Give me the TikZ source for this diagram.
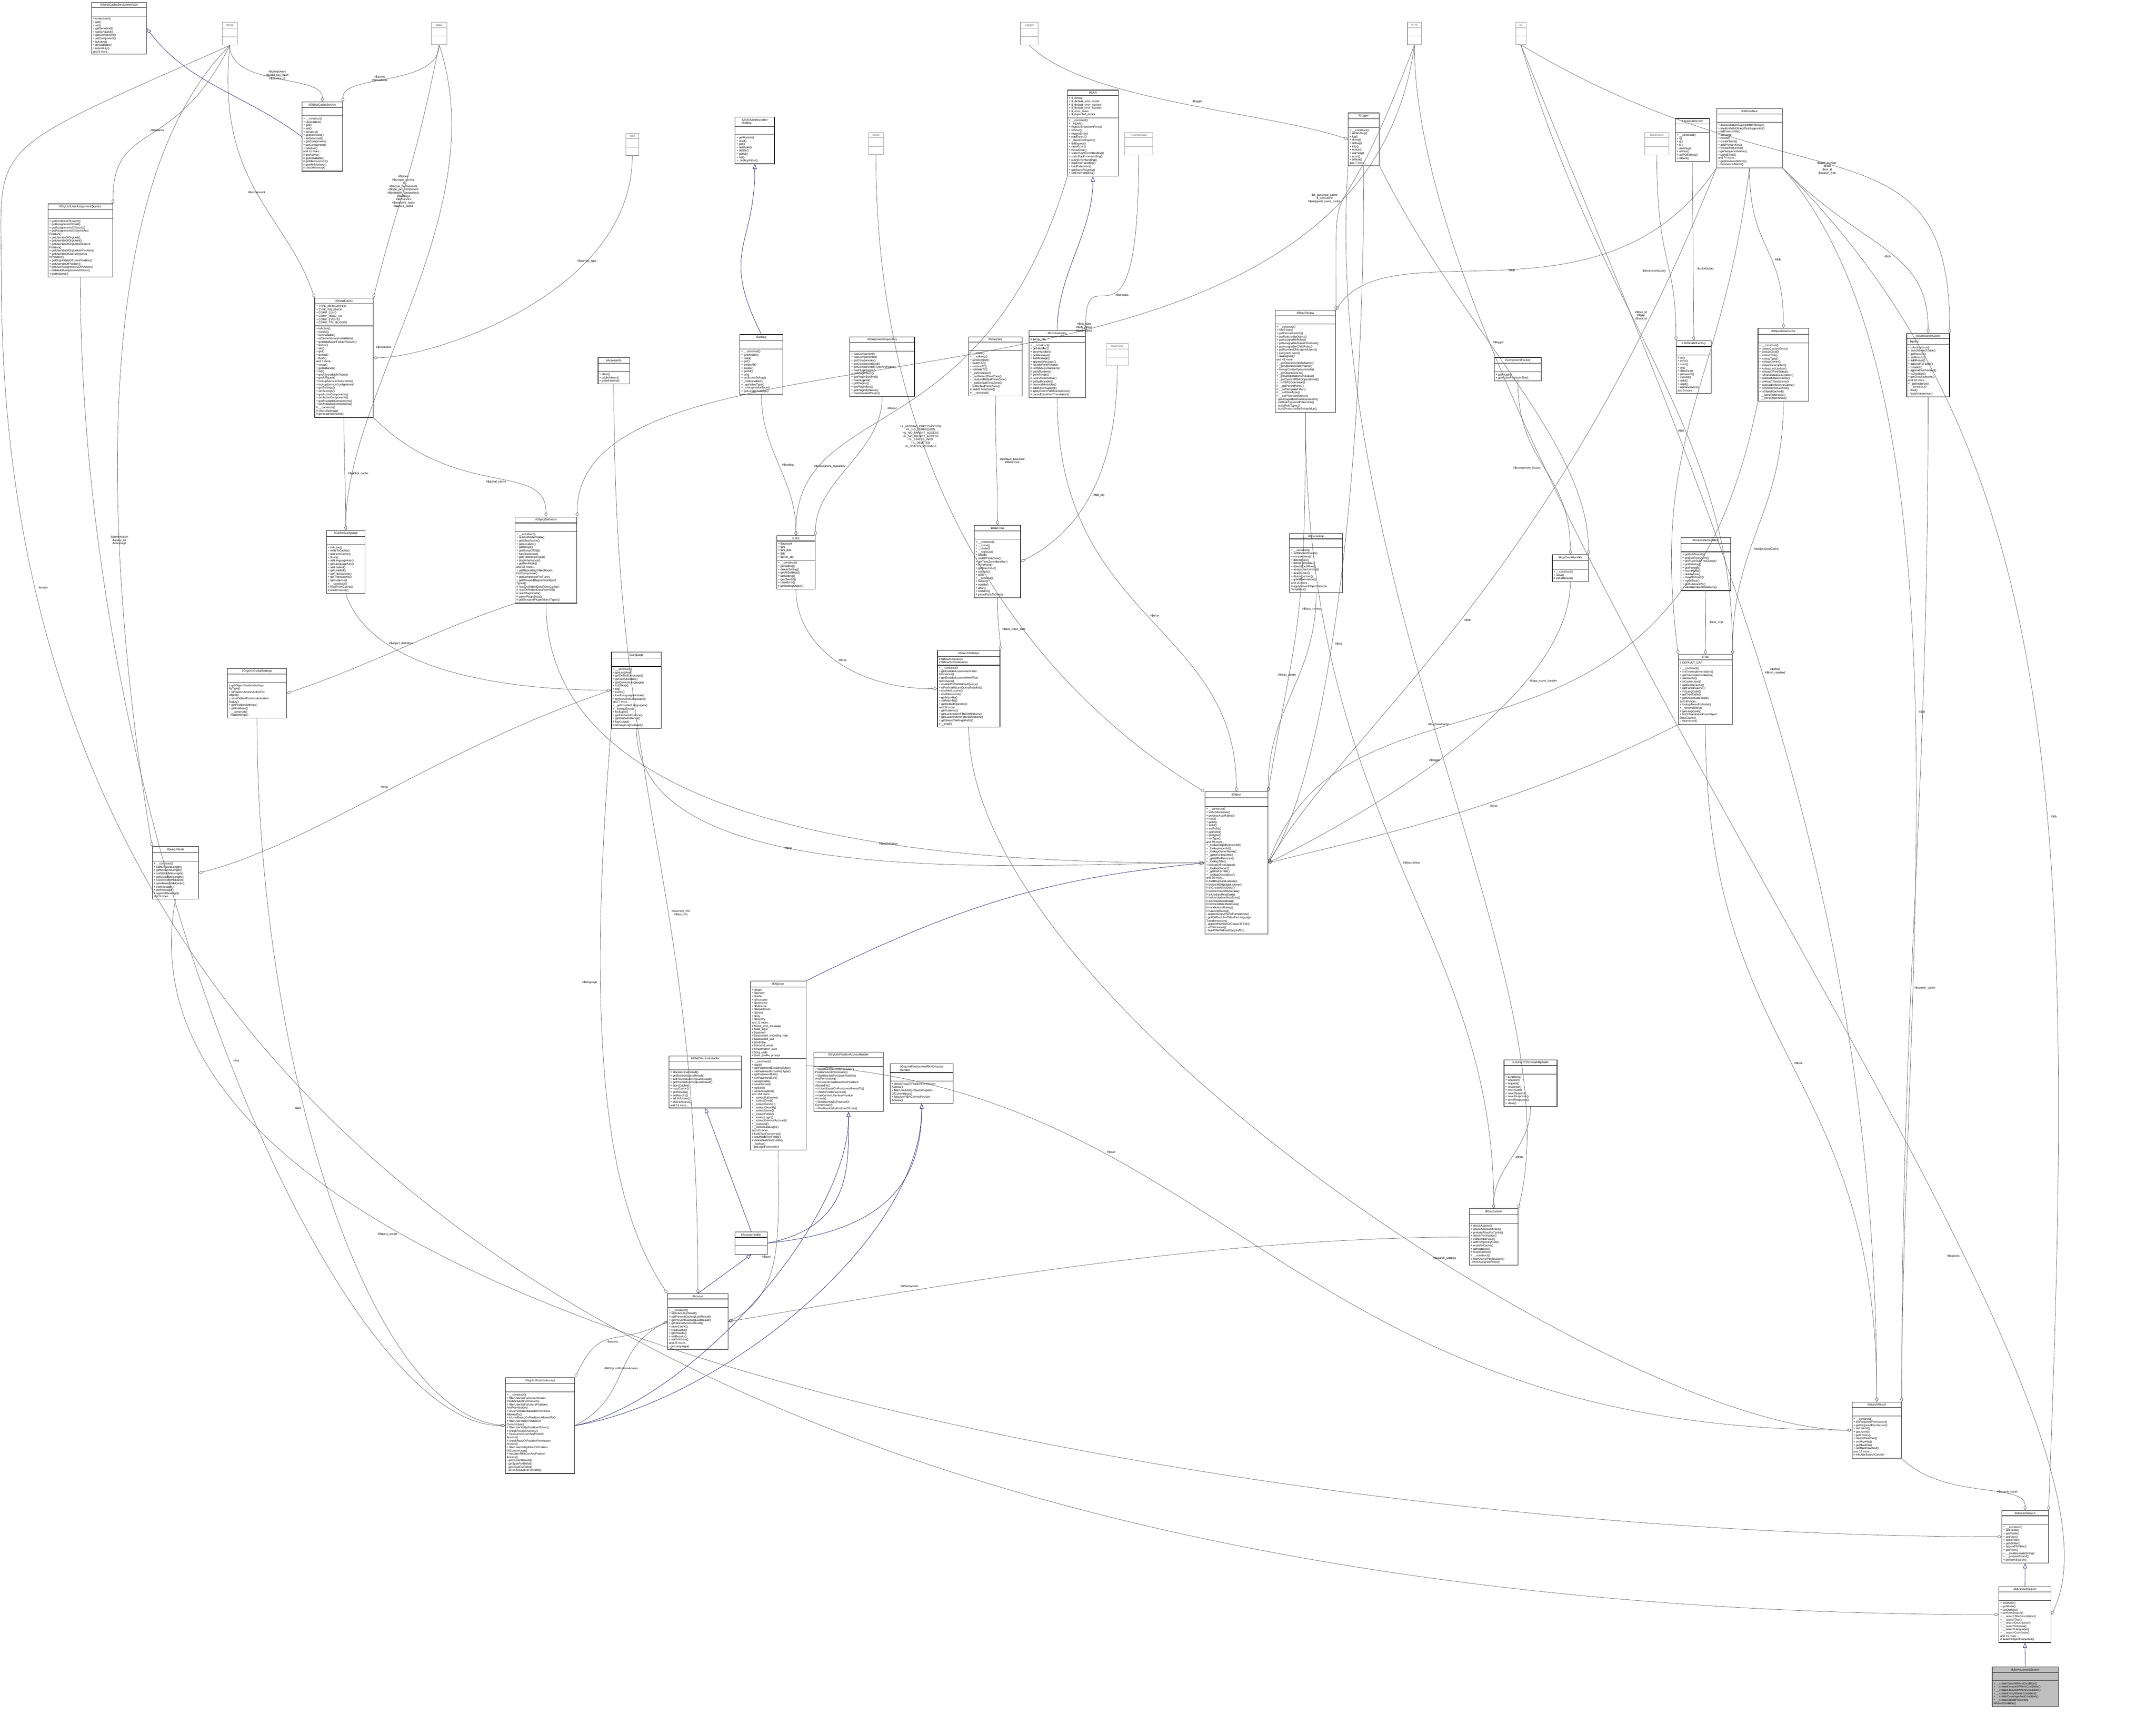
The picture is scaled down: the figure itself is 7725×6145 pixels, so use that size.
\documentclass[tikz,border=0pt]{standalone}
\usepackage{fontspec}
\setmainfont{Liberation Sans}
\usetikzlibrary{shapes.multipart,arrows.meta}
\definecolor{navy}{RGB}{25,25,112}
\tikzset{
 cls/.style={draw=black!85,line width=0.5pt,rectangle split,rectangle split parts=3,
   rectangle split part align={center,left,left},align=left,anchor=north west,
   inner xsep=0.05cm,inner ysep=0.05cm,rectangle split empty part height=0.12cm,
   font=\fontsize{2.9pt}{3.35pt}\selectfont},
 tcls/.style={cls,draw=black!40,text=black!60,rectangle split empty part height=0.17cm},
 sel/.style={cls,fill=black!25},
 agg/.style={draw=black!70,line width=0.3pt,-{Diamond[open,length=5pt,width=3pt]}},
 inh/.style={draw=navy,line width=0.35pt,-{Triangle[open,length=5pt,width=4pt]}},
 lbl/.style={font=\fontsize{2.9pt}{3.35pt}\selectfont,align=center,text=black}
}
\newcommand\cls[8][cls]{\node[#1,minimum width=#5*0.01cm] (#2) at (#3,#4) {#6\nodepart{second}#7\nodepart{third}#8};}
\begin{document}
\begin{tikzpicture}[x=0.01cm,y=-0.01cm]
\useasboundingbox[fill=white] (0,0) rectangle (7725,6145);
% type boxes
\cls[tcls]{string}{796}{79}{53}{string}{}{}
\cls[tcls]{static}{1545}{79}{55}{static}{}{}
\cls[tcls]{Logger}{3656}{79}{63}{Logger}{}{}
\cls[tcls]{array}{5042}{79}{50}{array}{}{}
\cls[tcls]{int}{5430}{79}{37}{int}{}{}
\cls[tcls]{bool}{2241}{477}{47}{bool}{}{}
\cls[tcls]{const}{3111}{474}{53}{const}{}{}
\cls[tcls]{RunInterface}{4029}{474}{100}{RunInterface}{}{}
\cls[tcls]{Dimension}{5892}{474}{87}{Dimension}{}{}
\cls[tcls]{DateTime}{3963}{1230}{79}{DateTime}{}{}
% classes
\cls{IGCSI}{327}{7}{197}{IGlobalCacheServiceInterface}{\mbox{}}{+ unserialize()\\+ get()\\+ set()\\+ getServiceId()\\+ setServiceId()\\+ getComponent()\\+ setComponent()\\+ isActive()\\+ isInstallable()\\+ returnKey()\\and 9 more...}
\cls{GCS}{1081}{365}{146}{ilGlobalCacheService}{\mbox{}}{+ \_\_construct()\\+ unserialize()\\+ get()\\+ set()\\+ serialize()\\+ getServiceId()\\+ setServiceId()\\+ getComponent()\\+ setComponent()\\+ isActive()\\and 11 more...\\\# getActive()\\\# getInstallable()\\\# getMemoryLimit()\\\# getMinMemory()\\\# checkMemory()}
\cls{OUUAQ}{171}{730}{232}{ilOrgUnitUserAssignmentQueries}{\mbox{}}{+ getPositionsOfUserId()\\+ getAssignmentOrFail()\\+ getAssignmentsOfUserId()\\+ getAssignmentsOfUserIdAnd\\Position()\\+ getUserIdsOfOrgUnit()\\+ getUserIdsOfOrgUnits()\\+ getUserIdsOfOrgUnitsOfUsers\\Position()\\+ getUserIdsOfOrgUnitsInPosition()\\+ getUserIdsOfUsersOrgUnits\\InPosition()\\+ getOrgUnitIdsOfUsersPosition()\\+ getUserIdsOfPosition()\\+ getUserAssignmentsOfPosition()\\+ deleteAllAssignmentsOfUser()\\+ getInstance()}
\cls{GC}{1127}{1068}{209}{ilGlobalCache}{+ TYPE\_MEMCACHED\\+ TYPE\_FALLBACK\\+ COMP\_CLNG\\+ COMP\_RBAC\_UA\\+ COMP\_EVENTS\\+ COMP\_TPL\_BLOCKS}{+ isActive()\\+ isValid()\\+ isInstallable()\\+ isCacheServiceInstallable()\\+ getInstallationFailureReason()\\+ exists()\\+ set()\\+ get()\\+ delete()\\+ flush()\\and 7 more...\\+ setup()\\+ getInstance()\\+ log()\\+ getAllInstallableTypes()\\+ getAllTypes()\\+ lookupServiceClassName()\\+ lookupServiceConfigName()\\+ getSettings()\\+ setSettings()\\+ getActiveComponents()\\+ setActiveComponents()\\+ getAvailableComponents()\\+ setAvailableComponents()\\\# \_\_construct()\\\# checkSettings()\\\# generateServiceId()}
\cls{AccessInfo}{2142}{1281}{113}{ilAccessInfo}{\mbox{}}{+ clear()\\+ addInfoItem()\\+ getInfoItems()}
\cls{AdmSetting}{2633}{419}{141}{ILIAS\textbackslash Administration\\\textbackslash Setting}{\mbox{}}{+ getModule()\\+ read()\\+ get()\\+ deleteAll()\\+ delete()\\+ getAll()\\+ set()\\+ \_lookupValue()}
\cls{PEAR}{3824}{322}{182}{PEAR}{+ \$\_debug\\+ \$\_default\_error\_mode\\+ \$\_default\_error\_options\\+ \$\_default\_error\_handler\\+ \$\_error\_class\\+ \$\_expected\_errors}{+ \_\_construct()\\+ \_PEAR()\\+ registerShutdownFunc()\\+ isError()\\+ expectError()\\+ popExpect()\\+ \_checkDelExpect()\\+ delExpect()\\+ raiseError()\\+ throwError()\\+ staticPushErrorHandling()\\+ staticPopErrorHandling()\\+ pushErrorHandling()\\+ popErrorHandling()\\+ loadExtension()\\+ getStaticProperty()\\+ setErrorHandling()}
\cls{Logr}{4830}{404}{111}{ilLogger}{\mbox{}}{+ \_\_construct()\\+ isHandling()\\+ log()\\+ dump()\\+ debug()\\+ info()\\+ notice()\\+ warning()\\+ error()\\+ critical()\\and 7 more...}
\cls{Color}{6002}{424}{122}{ILIAS\textbackslash Data\textbackslash Color}{\mbox{}}{+ \_\_construct()\\+ r()\\+ g()\\+ b()\\+ asArray()\\+ asHex()\\+ asRGBString()\\+ isDark()}
\cls{DBI}{6150}{388}{235}{ilDBInterface}{\mbox{}}{+ doesCollationSupportMB4Strings()\\+ sanitizeMB4StringIfNotSupported()\\+ initFromIniFile()\\+ connect()\\+ nextId()\\+ createTable()\\+ addPrimaryKey()\\+ createSequence()\\+ getSequenceName()\\+ tableExists()\\and 74 more...\\+ getReservedWords()\\+ isReservedWord()}
\cls{Setting}{2650}{1198}{154}{ilSetting}{\mbox{}}{+ \_\_construct()\\+ getModule()\\+ read()\\+ get()\\+ deleteAll()\\+ delete()\\+ getAll()\\+ set()\\+ setScormDebug()\\+ \_lookupValue()\\+ \_getValueType()\\+ \_changeValueType()\\+ getLongerSettings()}
\cls{CompRepo}{3044}{1206}{232}{ilComponentRepository}{\mbox{}}{+ hasComponent()\\+ hasComponentId()\\+ getComponents()\\+ getComponentById()\\+ getComponentByTypeAndName()\\+ hasPluginSlotId()\\+ getPluginSlots()\\+ getPluginSlotById()\\+ hasPluginId()\\+ getPlugins()\\+ getPluginById()\\+ getPluginByName()\\+ hasActivatedPlugin()}
\cls{TZ}{3470}{1206}{191}{ilTimeZone}{\mbox{}}{+ \_\_sleep()\\+ \_\_wakeup()\\+ getIdentifier()\\+ switchTZ()\\+ restoreTZ()\\+ validateTZ()\\+ \_getInstance()\\+ \_setDefaultTimeZone()\\+ \_restoreDefaultTimeZone()\\+ \_getDefaultTimeZone()\\+ initDefaultTimeZone()\\\# switchTimeZone()\\\# \_\_construct()}
\cls{ErrH}{3686}{1184}{202}{ilErrorHandling}{\# \$error\_obj}{+ \_\_construct()\\+ getHandler()\\+ errorHandler()\\+ getMessage()\\+ setMessage()\\+ appendMessage()\\+ handlePreWhoops()\\\# initWhoopsHandlers()\\\# getIsRuntime()\\\# getWhoops()\\\# isDevmodeActive()\\\# defaultHandler()\\\# devmodeHandler()\\\# addEditorSupport()\\\# applyEditorPathTranslations()\\\# parseEditorPathTranslation()}
\cls{RbacRev}{4568}{1111}{217}{ilRbacReview}{\mbox{}}{+ \_\_construct()\\+ roleExists()\\+ getParentRoleIds()\\+ getRoleListByObject()\\+ getAssignableRoles()\\+ getAssignableRolesInSubtree()\\+ getAssignableChildRoles()\\+ getNumberOfAssignedUsers()\\+ assignedUsers()\\+ isAssigned()\\and 43 more...\\+ \_getOperationIdsByName()\\+ \_getOperationIdByName()\\+ lookupCreateOperationIds()\\+ \_getOperationList()\\+ \_groupOperationsByClass()\\+ \_getCustomRBACOperationId()\\+ \_isRBACOperation()\\\# \_\_getParentRoles()\\\# \_\_setTemplateFilter()\\\# \_\_setRoleType()\\\# \_\_setProtectedStatus()\\- getAssignableRolesGenerator()\\- setRoleTypeAndProtection()\\- buildRoleTypes()\\- buildProtectionByStringValue()}
\cls{CompFac}{5353}{1280}{169}{ilComponentFactory}{\mbox{}}{+ getPlugin()\\+ getActivePluginsInSlot()}
\cls{DataFac}{6005}{1220}{126}{ILIAS\textbackslash Data\textbackslash Factory}{\mbox{}}{+ ok()\\+ error()\\+ color()\\+ uri()\\+ dataSize()\\+ password()\\+ clientId()\\+ refId()\\+ objId()\\+ alphanumeric()\\and 9 more...}
\cls{ODC}{6298}{1176}{182}{ilObjectDataCache}{\mbox{}}{+ \_\_construct()\\+ deleteCachedEntry()\\+ lookupObjId()\\+ lookupTitle()\\+ lookupType()\\+ lookupOwner()\\+ lookupDescription()\\+ lookupLastUpdate()\\+ lookupOfflineStatus()\\+ isTranslatedDescription()\\+ preloadObjectCache()\\+ preloadTranslations()\\+ preloadReferenceCache()\\+ isReferenceCached()\\+ isObjectCached()\\- \_\_storeReference()\\- \_\_storeObjectData()}
\cls{USC}{6831}{1194}{153}{ilUserSearchCache}{- \$query}{+ isAnonymous()\\+ switchSearchType()\\+ getResults()\\+ setResults()\\+ addResult()\\+ appendToFailed()\\+ isFailed()\\+ appendToChecked()\\+ isChecked()\\+ getCheckedItems()\\and 18 more...\\+ \_getInstance()\\- \_\_construct()\\- read()\\- readAnonymous()}
\cls{CLang}{1169}{1900}{138}{ilCachedLanguage}{\mbox{}}{+ isActive()\\+ writeToCache()\\+ deleteInCache()\\+ flush()\\+ setLanguageKey()\\+ getLanguageKey()\\+ setLoaded()\\+ getLoaded()\\+ setTranslations()\\+ getTranslations()\\+ getInstance()\\\# \_\_construct()\\\# readFromCache()\\\# readFromDB()}
\cls{ObjDef}{1845}{1852}{221}{ilObjectDefinition}{\mbox{}}{+ \_\_construct()\\+ readDefinitionData()\\+ getClassName()\\+ getLocation()\\+ getGroup()\\+ getGroupOfObj()\\+ hasCheckbox()\\+ getTranslationType()\\+ stopInheritance()\\+ getDevMode()\\and 38 more...\\+ getRepositoryObjectTypes\\ForComponent()\\+ getComponentForType()\\+ getGroupedRepositoryObject\\Types()\\\# readDefinitionDataFromCache()\\\# readDefinitionDataFromDB()\\\# readPluginData()\\\# parsePluginData()\\\# getGroupedPluginObjectTypes()}
\cls{Lang}{2190}{2336}{179}{ilLanguage}{\mbox{}}{+ \_\_construct()\\+ getLangKey()\\+ getDefaultLanguage()\\+ getTextDirection()\\+ getContentLanguage()\\+ toJSMap()\\+ txt()\\+ exists()\\+ loadLanguageModule()\\+ getInstalledLanguages()\\and 7 more...\\+ \_getInstalledLanguages()\\+ \_lookupEntry()\\+ lookupId()\\+ getFallbackInstance()\\+ getGlobalInstance()\\\# logUsage()\\\# isUsageLogEnabled()}
\cls{OUGS}{814}{2394}{212}{ilOrgUnitGlobalSettings}{\mbox{}}{+ getObjectPositionSettings\\ByType()\\+ isPositionAccessActiveFor\\Object()\\+ saveDefaultPositionActivation\\Status()\\+ getPositionSettings()\\+ getInstance()\\- \_\_construct()\\- readSettings()}
\cls{QP}{545}{3033}{166}{ilQueryParser}{\mbox{}}{+ \_\_construct()\\+ setMinWordLength()\\+ getMinWordLength()\\+ setGlobalMinLength()\\+ getGlobalMinLength()\\+ setAllowedWildcards()\\+ getAllowedWildcards()\\+ setMessage()\\+ getMessage()\\+ appendMessage()\\and 9 more...}
\cls{ILIAS}{2782}{1919}{138}{ILIAS}{+ \$account\\+ \$ini\\+ \$ini\_ilias\\+ \$db\\+ \$error\_obj}{+ \_\_construct()\\+ getSetting()\\+ deleteSetting()\\+ getAllSettings()\\+ setSetting()\\+ getClientId()\\+ raiseError()\\\# getSettingObject()}
\cls{DT}{3490}{1882}{166}{ilDateTime}{\mbox{}}{+ \_\_construct()\\+ \_\_clone()\\+ \_\_sleep()\\+ \_\_wakeup()\\+ isNull()\\+ switchTimeZone()\\+ getTimeZoneIdentifier()\\+ increment()\\+ getUnixTime()\\+ setDate()\\+ get()\\+ \_\_toString()\\+ before()\\+ equals()\\+ after()\\+ switchIn()\\\# parsePartsToDate()}
\cls{SSet}{3358}{2330}{224}{ilSearchSettings}{\# \$showRelevance\\\# \$showSubRelevance}{+ \_\_construct()\\+ getEnabledLuceneItemFilter\\Definitions()\\+ getEnabledLuceneMimeFilter\\Definitions()\\+ enablePrefixWildcardQuery()\\+ isPrefixWildcardQueryEnabled()\\+ enabledLucene()\\+ enableLucene()\\+ getMaxHits()\\+ setMaxHits()\\+ getDefaultOperator()\\and 38 more...\\+ getInstance()\\+ getLuceneItemFilterDefinitions()\\+ getLuceneMimeFilterDefinitions()\\+ getSearchSettingsRefId()\\\# \_\_read()}
\cls{RbacAdm}{4620}{1911}{190}{ilRbacAdmin}{\mbox{}}{+ \_\_construct()\\+ setBlockedStatus()\\+ removeUser()\\+ deleteRole()\\+ deleteTemplate()\\+ deleteLocalRole()\\+ assignUserLimited()\\+ assignUser()\\+ deassignUser()\\+ grantPermission()\\and 16 more...\\\# applyMovedObjectDidactic\\Templates()}
\cls{Obj}{4316}{2837}{226}{ilObject}{\mbox{}}{+ \_\_construct()\\+ withReferences()\\+ processAutoRating()\\+ read()\\+ getId()\\+ setId()\\+ setRefId()\\+ getRefId()\\+ getType()\\+ setType()\\and 39 more...\\+ \_lookupObjIdByImportId()\\+ \_lookupImportId()\\+ \_lookupOwnerName()\\+ \_getIdForImportId()\\+ \_getAllReferences()\\+ \_lookupTitle()\\+ lookupOfflineStatus()\\+ \_lookupOwner()\\+ \_getIdsForTitle()\\+ \_lookupDescription()\\and 26 more...\\\# doMDUpdateListener()\\\# beforeMDUpdateListener()\\\# doCreateMetaData()\\\# beforeCreateMetaData()\\\# doUpdateMetaData()\\\# beforeUpdateMetaData()\\\# doDeleteMetaData()\\\# beforeDeleteMetaData()\\\# handleAutoRating()\\\# hasAutoRating()\\- appendCopyInfoToTranslations()\\- getCallbackForTitlesPerLanguage\\Transformation()\\- appendNumberOfCopiesToTitle()\\- isTitleUnique()\\- buildTitleWithoutCopySuffix()}
\cls{AEH}{5561}{1987}{129}{ilAppEventHandler}{\mbox{}}{+ \_\_construct()\\+ raise()\\\# initListeners()}
\cls{TreeImpl}{6022}{1925}{178}{ilTreeImplementation}{\mbox{}}{+ getSubTreeIds()\\+ getSubTreeQuery()\\+ getTrashSubTreeQuery()\\+ getRelation()\\+ getPathIds()\\+ insertNode()\\+ deleteTree()\\+ moveToTrash()\\+ moveTree()\\+ getSubtreeInfo()\\+ validateParentRelations()}
\cls{Tree}{6013}{2345}{193}{ilTree}{\# DEFAULT\_GAP}{+ \_\_construct()\\+ initTreeImplementation()\\+ getTreeImplementation()\\+ useCache()\\+ isCacheUsed()\\+ getDepthCache()\\+ getParentCache()\\+ initLangCode()\\+ getTreeTable()\\+ getObjectDataTable()\\and 69 more...\\+ lookupTreesForNode()\\+ \_removeEntry()\\\# getLangCode()\\\# fetchTranslationFromObject\\DataCache()\\- returnIdom()}
\cls{ObjUser}{2688}{3515}{199}{ilObjUser}{+ \$login\\+ \$gender\\+ \$utitle\\+ \$firstname\\+ \$lastname\\+ \$fullname\\+ \$department\\+ \$street\\+ \$city\\+ \$country\\and 12 more...\\\# \$time\_limit\_message\\\# \$last\_login\\\# \$passwd\\\# \$password\_encoding\_type\\\# \$password\_salt\\\# \$birthday\\\# \$second\_email\\\# \$inactivation\_date\\\# \$org\_units\\\# \$last\_profile\_prompt}{+ \_\_construct()\\+ read()\\+ getPasswordEncodingType()\\+ setPasswordEncodingType()\\+ getPasswordSalt()\\+ setPasswordSalt()\\+ assignData()\\+ saveAsNew()\\+ update()\\+ writeAccepted()\\and 168 more...\\+ \_lookupFullname()\\+ \_lookupEmail()\\+ \_lookupGender()\\+ \_lookupClientIP()\\+ \_lookupName()\\+ \_lookupFields()\\+ \_lookupLogin()\\+ \_lookupExternalAccount()\\+ \_lookupId()\\+ \_lookupLastLogin()\\and 63 more...\\\# buildTextFromArray()\\\# readMultiTextFields()\\\# deleteMultiTextFields()\\- \_lookup()\\- getLoginFromAuth()}
\cls{RBACAH}{2396}{3783}{260}{ilRBACAccessHandler}{\mbox{}}{+ storeAccessResult()\\+ getStoredAccessResult()\\+ setPreventCachingLastResult()\\+ getPreventCachingLastResult()\\+ storeCache()\\+ readCache()\\+ getResults()\\+ setResults()\\+ addInfoItem()\\+ checkAccess()\\and 13 more...}
\cls{OUPAH}{2915}{3769}{249}{ilOrgUnitPositionAccessHandler}{\mbox{}}{+ filterUserIdsForCurrentUsers\\PositionsAndPermission()\\+ filterUserIdsForUsersPositions\\AndPermission()\\+ isCurrentUserBasedOnPositions\\AllowedTo()\\+ isUserBasedOnPositionsAllowedTo()\\+ checkPositionAccess()\\+ hasCurrentUserAnyPosition\\Access()\\+ filterUserIdsByPositionOf\\CurrentUser()\\+ filterUserIdsByPositionOfUser()}
\cls{OUPRAH}{3189}{3812}{225}{ilOrgUnitPositionAndRBACAccess\\Handler}{\mbox{}}{+ checkRbacOrPositionPermission\\Access()\\+ filterUserIdsByRbacOrPosition\\OfCurrentUser()\\+ hasUserRBACorAnyPosition\\Access()}
\cls{AH}{2633}{4414}{116}{ilAccessHandler}{\mbox{}}{\mbox{}}
\cls{Access}{2391}{4635}{217}{ilAccess}{\mbox{}}{+ \_\_construct()\\+ storeAccessResult()\\+ setPreventCachingLastResult()\\+ getPreventCachingLastResult()\\+ getStoredAccessResult()\\+ storeCache()\\+ readCache()\\+ getResults()\\+ setResults()\\+ addInfoItem()\\and 25 more...\\- getLanguage()}
\cls{OUPA}{1810}{4936}{248}{ilOrgUnitPositionAccess}{\mbox{}}{+ \_\_construct()\\+ filterUserIdsForCurrentUsers\\PositionsAndPermission()\\+ filterUserIdsForUsersPositions\\AndPermission()\\+ isCurrentUserBasedOnPositions\\AllowedTo()\\+ isUserBasedOnPositionsAllowedTo()\\+ filterUserIdsByPositionOf\\CurrentUser()\\+ filterUserIdsByPositionOfUser()\\+ checkPositionAccess()\\+ hasCurrentUserAnyPosition\\Access()\\+ checkRbacOrPositionPermission\\Access()\\+ filterUserIdsByRbacOrPosition\\OfCurrentUser()\\+ hasUserRBACorAnyPosition\\Access()\\- getCurrentUserId()\\- getTypeForRefId()\\- getObjIdForRefId()\\- isPositionActiveForRefId()}
\cls{Http}{5388}{3797}{190}{ILIAS\textbackslash HTTP\textbackslash GlobalHttpState}{\mbox{}}{+ durations()\\+ wrapper()\\+ request()\\+ response()\\+ cookieJar()\\+ saveRequest()\\+ saveResponse()\\+ sendResponse()\\+ close()}
\cls{RbacSys}{5264}{4331}{174}{ilRbacSystem}{\mbox{}}{+ checkAccess()\\+ checkAccessOfUser()\\+ preloadRbacPaCache()\\+ checkPermission()\\+ initMemberView()\\+ addTemporaryRole()\\+ resetPACache()\\+ getInstance()\\+ resetCaches()\\\# \_\_construct()\\\# filterOwnerPermissions()\\- fetchAssignedRoles()}
\cls{SR}{6635}{5024}{177}{ilSearchResult}{\mbox{}}{+ \_\_construct()\\+ setRequiredPermission()\\+ getRequiredPermission()\\+ setUserId()\\+ getUserId()\\+ getEntries()\\+ isLimitReached()\\+ setMaxHits()\\+ getMaxHits()\\+ isOffsetReached()\\and 22 more...\\\# initUserSearchCache()}
\cls{AbsS}{7172}{5412}{166}{ilAbstractSearch}{\mbox{}}{+ \_\_construct()\\+ setFields()\\+ getFields()\\+ setFilter()\\+ setIdFilter()\\+ getIdFilter()\\+ appendToFilter()\\+ getFilter()\\+ \_\_createLocateString()\\+ \_\_prepareFound()\\+ performSearch()}
\cls{AdvS}{7161}{5685}{187}{ilAdvancedSearch}{\mbox{}}{+ setMode()\\+ getMode()\\+ setOptions()\\+ performSearch()\\+ \_\_searchTitleDescription()\\+ \_\_searchTitle()\\+ \_\_searchDescription()\\+ \_\_searchGeneral()\\+ \_\_searchLanguage()\\+ \_\_searchContribute()\\and 16 more...\\\# searchObjectProperties()}
\cls[sel]{LAdvS}{7137}{5973}{237}{ilLikeAdvancedSearch}{\mbox{}}{+ \_\_createTaxonWhereCondition()\\+ \_\_createKeywordWhereCondition()\\+ \_\_createLifecycleWhereCondition()\\+ \_\_createEntityWhereCondition()\\+ \_\_createCoverageAndCondition()\\+ \_\_createObjectProperties\\WhereCondition()}
% inheritance
\draw[inh] (GCS.west) .. controls +(-200,-150) and +(150,200) .. (IGCSI.east);
\draw[inh] (Setting.north) .. controls +(-150,-300) and +(0,300) .. (AdmSetting.south);
\draw[inh] (ErrH.north) .. controls +(0,-200) and +(0,200) .. (PEAR.south);
\draw[inh] (AH.north) -- (RBACAH.south);
\draw[inh] (AH.east) .. controls +(300,-60) and +(0,200) .. (OUPAH.south);
\draw[inh] (AH.east) .. controls +(400,-40) and +(0,300) .. (OUPRAH.south);
\draw[inh] (Access.north) -- (AH.south);
\draw[inh] (OUPA.east) .. controls +(400,-80) and +(0,400) .. (OUPAH.south);
\draw[inh] (OUPA.east) .. controls +(500,-80) and +(0,500) .. (OUPRAH.south);
\draw[inh] (ObjUser.north east) .. controls +(600,-300) and +(-500,50) .. (Obj.west);
\draw[inh] (AdvS.north) -- (AbsS.south);
\draw[inh] (LAdvS.north) -- (AdvS.south);
% aggregation
\draw[agg] (string.south) .. controls +(0,150) and +(0,-100) .. node[lbl,pos=0.4,right]{\#\$component\\\#\$valid\_key\_hash\\\#\$service\_id} (GCS.north);
\draw[agg] (static.south) .. controls +(0,150) and +(0,-100) .. node[lbl,pos=0.5,left]{\#\$active\\\#\$installable} (GCS.north east);
\draw[agg] (static.south) .. controls +(-100,500) and +(100,-400) .. node[lbl,pos=0.55]{\#\$types\\\#\$unique\_service\\\_id\\\#\$active\_components\\\#\$type\_per\_component\\\#\$available\_components\\\#\$settings\\\#\$instances\\\#\$available\_types\\\#\$active\_cache} (GC.north east);
\draw[agg] (string.south) .. controls +(-50,500) and +(-100,-300) .. node[lbl,pos=0.5]{\#\$component} (GC.north west);
\draw[agg] (bool.south) .. controls +(0,500) and +(200,0) .. node[lbl,pos=0.3]{\#\$service\_type} (GC.east);
\draw[agg] (string.south) .. controls +(-200,400) and +(0,-300) .. node[lbl,pos=0.45]{\#\$instance} (OUUAQ.north east);
\draw[agg] (GC.south) .. controls +(0,150) and +(0,-150) .. node[lbl,pos=0.5,right]{\#\$global\_cache} (CLang.north);
\draw[agg] (GC.south east) .. controls +(300,300) and +(0,-200) .. node[lbl,pos=0.6,left]{\#\$global\_cache} (ObjDef.north);
\draw[agg] (ObjDef.south west) .. controls +(-300,100) and +(300,-100) .. node[lbl,pos=0.5,above]{\#\$object\_definition} (OUGS.east);
\draw[agg] (AccessInfo.south) .. controls +(0,1500) and +(0,-1500) .. node[lbl,pos=0.6,right]{\#\$current\_info\\\#\$last\_info} (Access.north);
\draw[agg] (CLang.south) .. controls +(100,300) and +(-300,0) .. (Lang.west);
\draw[agg] (Lang.south) .. controls +(0,600) and +(-600,0) .. node[lbl,pos=0.4]{\#\$lng} (Obj.west);
\draw[agg] (ObjDef.south) .. controls +(0,900) and +(-700,0) .. node[lbl,pos=0.6]{\#\$objDefinition} (Obj.west);
\draw[agg] (Lang.west) .. controls +(-600,200) and +(400,-100) .. node[lbl,pos=0.5,above]{\#\$lng} (QP.east);
\draw[agg] (QP.south) .. controls +(-300,1600) and +(-2500,0) .. node[lbl,pos=0.3,left]{\#\$query\_parser} (AbsS.west);
\draw[agg] (OUUAQ.south) .. controls +(0,2000) and +(-600,0) .. node[lbl,pos=0.5,right]{-\$ua} (OUPA.west);
\draw[agg] (OUGS.south) .. controls +(0,1200) and +(-500,-50) .. node[lbl,pos=0.4,left]{-\$set} (OUPA.west);
\draw[agg] (Access.west) .. controls +(-200,100) and +(100,-200) .. node[lbl,pos=0.6,right]{-\$access} (OUPA.north east);
\draw[agg] (OUPA.east) .. controls +(200,-100) and +(-200,100) .. node[lbl,pos=0.5,above]{\#\$ilOrgUnitPositionAccess} (Access.west);
\draw[agg] (ObjUser.south) .. controls +(0,300) and +(200,-100) .. node[lbl,pos=0.5,left]{\#\$user} (Access.east);
\draw[agg] (RbacSys.west) .. controls +(-1000,0) and +(600,-100) .. node[lbl,pos=0.7,above]{\#\$rbacsystem} (Access.east);
\draw[agg] (Http.south) .. controls +(0,150) and +(0,-150) .. node[lbl,pos=0.5,right]{\#\$http} (RbacSys.north);
\draw[agg] (RbacRev.south) .. controls +(0,1500) and +(0,-1000) .. node[lbl,pos=0.5,right]{\#\$rbacreview} (RbacSys.north);
\draw[agg] (RbacRev.south) .. controls +(0,800) and +(100,-600) .. node[lbl,pos=0.45,right]{\#\$rbac\_review} (Obj.north east);
\draw[agg] (RbacAdm.south) .. controls +(0,300) and +(0,-300) .. node[lbl,pos=0.4,left]{\#\$rbac\_admin} (Obj.north east);
\draw[agg] (ErrH.south) .. controls +(0,800) and +(0,-600) .. node[lbl,pos=0.5,right]{\#\$error} (Obj.north);
\draw[agg] (Logr.south) .. controls +(0,1200) and +(200,-300) .. node[lbl,pos=0.55,right]{\#\$log} (Obj.east);
\draw[agg] (AEH.south) .. controls +(0,400) and +(400,-200) .. node[lbl,pos=0.3,right]{\#\$app\_event\_handler} (Obj.east);
\draw[agg] (Tree.south west) .. controls +(-600,300) and +(400,-100) .. node[lbl,pos=0.4,below]{\#\$tree} (Obj.east);
\draw[agg] (Tree.south) .. controls +(0,1200) and +(0,-1200) .. node[lbl,pos=0.5,right]{\#\$tree} (SR.north);
\draw[agg] (TreeImpl.south) -- node[lbl,pos=0.5,right]{-\$tree\_impl} (Tree.north);
\draw[agg] (ODC.south) .. controls +(0,400) and +(0,-400) .. node[lbl,pos=0.6,right]{\#\$objectDataCache} (Tree.north east);
\draw[agg] (DBI.south) .. controls +(0,300) and +(0,-300) .. node[lbl,pos=0.6,right]{\#\$db} (ODC.north);
\draw[agg] (DBI.south) .. controls +(-100,800) and +(-100,-800) .. node[lbl,pos=0.55,left]{\#\$db} (Tree.north west);
\draw[agg] (DBI.south east) .. controls +(300,300) and +(0,-300) .. node[lbl,pos=0.55,left]{\#\$db} (USC.north);
\draw[agg] (DBI.south east) .. controls +(700,800) and +(0,-1500) .. node[lbl,pos=0.5,right]{\#\$db} (SR.north east);
\draw[agg] (DBI.south east) .. controls +(1000,1000) and +(100,-2500) .. node[lbl,pos=0.6,right]{\#\$db} (AbsS.north east);
\draw[agg] (DBI.south west) .. controls +(-400,600) and +(200,-300) .. node[lbl,pos=0.5,right]{\#\$db} (RbacRev.north east);
\draw[agg] (DBI.south west) .. controls +(-600,1500) and +(300,-500) .. node[lbl,pos=0.5,right]{\#\$db} (Obj.east);
\draw[agg] (Color.south) -- node[lbl,pos=0.6,right]{-\$colorfactory} (DataFac.north);
\draw[agg] (Dimension.south) .. controls +(0,400) and +(0,-300) .. node[lbl,pos=0.6,left]{-\$dimensionfactory} (DataFac.north west);
\draw[agg] (USC.south) .. controls +(0,1500) and +(0,-1500) .. node[lbl,pos=0.6,right]{\#\$search\_cache} (SR.north east);
\draw[agg] (SSet.south) .. controls +(0,1000) and +(-800,0) .. node[lbl,pos=0.6,above]{\#\$search\_settings} (SR.west);
\draw[agg] (SR.south east) .. controls +(150,150) and +(0,-100) .. node[lbl,pos=0.6,right]{\#\$search\_result} (AbsS.north);
\draw[agg] (DT.south) .. controls +(0,100) and +(0,-50) .. node[lbl,pos=0.5,right]{\#\$last\_index\_date} (SSet.north east);
\draw[agg] (TZ.south) .. controls +(0,200) and +(0,-200) .. node[lbl,pos=0.5,right]{\#\$default\_timezone\\\#\$timezone} (DT.north);
\draw[agg] (DateTime.south) .. controls +(0,400) and +(200,-100) .. node[lbl,pos=0.5,right]{\#\$dt\_obj} (DT.east);
\draw[agg] (ILIAS.south) .. controls +(0,200) and +(-300,0) .. node[lbl,pos=0.5,right]{\#\$ilias} (SSet.west);
\draw[agg] (Setting.south) .. controls +(0,200) and +(0,-200) .. node[lbl,pos=0.5,right]{\#\$setting} (ILIAS.north);
\draw[agg] (CompRepo.south) .. controls +(0,200) and +(0,-200) .. node[lbl,pos=0.5,left]{\#\$component\_repository} (ILIAS.north east);
\draw[agg] (Logger.south) .. controls +(200,200) and +(-300,-100) .. node[lbl,pos=0.55,above]{-\$logger} (Logr.west);
\draw[agg] (CompFac.south) .. controls +(0,300) and +(0,-300) .. node[lbl,pos=0.5,left]{\#\$component\_factory} (AEH.north);
\draw[agg] (Logr.south east) .. controls +(300,600) and +(0,-400) .. node[lbl,pos=0.4,right]{\#\$logger} (AEH.north east);
\draw[agg] (array.south) .. controls +(0,1500) and +(400,-800) .. node[lbl,pos=0.7,left]{\#\$options} (AdvS.east);
\draw[agg] (int.south) .. controls +(300,1000) and +(0,-800) .. node[lbl,pos=0.4,right]{\#\$tree\_id\\\#\$gap\\\#\$root\_id} (Tree.north east);
\draw[agg] (string.south) .. controls +(-600,600) and +(-100,-600) .. node[lbl,pos=0.6]{-\$combination\\-\$query\_str\\-\$message} (QP.north west);
\draw[agg] (const.south) .. controls +(0,1300) and +(-500,-300) .. node[lbl,pos=0.3]{+IL\_MISSING\_PRECONDITION\\+IL\_NO\_PERMISSION\\+IL\_NO\_PARENT\_ACCESS\\+IL\_NO\_OBJECT\_ACCESS\\+IL\_STATUS\_INFO\\+IL\_DELETED\\+IL\_STATUS\_MESSAGE} (Obj.north west);
\draw[agg] (Lang.south west) .. controls +(-100,1200) and +(-200,-300) .. node[lbl,pos=0.3,left]{\#\$language} (Access.north west);
\draw[agg] (ObjUser.east) .. controls +(1500,100) and +(-2000,0) .. node[lbl,pos=0.3,above]{\#\$user} (SR.west);
\draw[agg] (RunInterface.south) .. controls +(0,800) and +(0,-300) .. node[lbl,pos=0.5,right]{\#\$whoops} (ErrH.north east);
\draw[agg] (string.south) .. controls +(-900,400) and +(0,-500) .. (5,1000) .. controls +(0,4000) and +(-3000,0) .. node[lbl,pos=0.1,right]{-\$mode} (AdvS.west);
\draw[agg] (array.south) .. controls +(-300,800) and +(0,-600) .. node[lbl,pos=0.5,left]{-\$is\_assigned\_cache\\-\$\_opsCache\\\#\$assigned\_users\_cache} (RbacRev.north east);
\draw[agg] (int.south) .. controls +(1000,600) and +(0,-800) .. node[lbl,pos=0.5,left]{\$page\_number\\-\$root\\-\$usr\_id\\-\$search\_type} (USC.north east);
\draw[agg] (static.south) .. controls +(200,600) and +(0,-500) .. node[lbl,pos=0.6,left]{\#\$instances} (CLang.north);
\draw[agg] (PEAR.south west) .. controls +(-300,1000) and +(0,-500) .. node[lbl,pos=0.5,left]{\#\$error} (ILIAS.north);
\draw[agg] (array.south) .. controls +(-200,1500) and +(0,-800) .. node[lbl,pos=0.4,left]{\#\$obj\_data\\\#\$obj\_group\\\#\$sub\_types} (ObjDef.north east);
\draw[agg] (int.south) .. controls +(600,1500) and +(0,-2000) .. node[lbl,pos=0.5,right]{\#\$offset\\\#\$limit\_reached} (SR.north);
\draw[agg] (Logr.south west) .. controls +(-100,1500) and +(200,-800) .. node[lbl,pos=0.5,left]{\#\$logger} (RbacSys.north east);
\draw[agg] (ODC.south west) .. controls +(-300,1500) and +(300,-800) .. node[lbl,pos=0.6,left]{\#\$objDataCache} (Obj.east);
\end{tikzpicture}
\end{document}
